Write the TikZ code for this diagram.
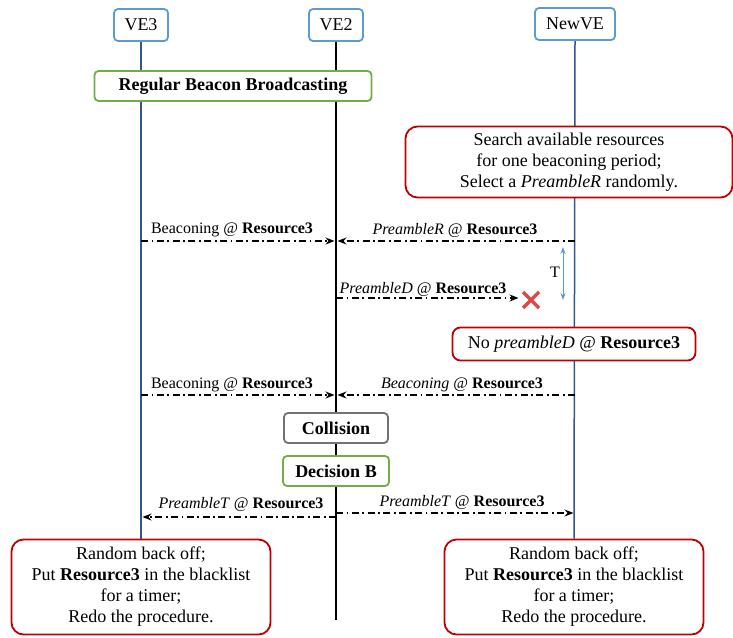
\documentclass[tikz,border=0pt]{standalone}
\usepackage{fontspec}
\setmainfont{Liberation Serif}
\usetikzlibrary{arrows.meta,backgrounds,calc}
\definecolor{entblue}{HTML}{5B9BD5}
\definecolor{lifeblue}{HTML}{2F5597}
\definecolor{phasegreen}{HTML}{70AD47}
\definecolor{notered}{HTML}{C00000}
\definecolor{stategray}{HTML}{767171}
\definecolor{crossred}{HTML}{E04848}
\tikzset{
  boxtext/.style={font=\fontsize{18}{21}\selectfont},
  entity/.style={boxtext, draw=entblue, line width=1.8pt, rounded corners=4pt, fill=white, minimum height=32pt, inner sep=0pt},
  phase/.style={boxtext, font=\fontsize{18}{21}\selectfont\bfseries, line width=1.8pt, rounded corners=4pt, fill=white, minimum height=30pt, inner sep=0pt},
  note/.style={boxtext, draw=notered, line width=1.8pt, rounded corners=12pt, fill=white, align=center, inner sep=0pt},
  msg/.style={line width=1.3pt, dash pattern=on 7pt off 3.5pt on 1.8pt off 3.5pt, -{Stealth[length=9pt,width=7pt,inset=3pt]}, shorten >=1.5pt},
  lbl/.style={font=\fontsize{16}{18}\selectfont, inner sep=0pt},
  life/.style={line width=1.5pt, lifeblue}
}
\def\resthree{\textbf{Resource3}}

\begin{document}
\begin{tikzpicture}[x=1pt,y=-1pt]
    %%%%% START %%%%%
    \useasboundingbox (0,0) rectangle (733,637);

    % entities
    \node[entity, minimum width=54pt] (ve3) at (141,25) {VE3};
    \node[entity, minimum width=54pt] (ve2) at (336,25) {VE2};
    \node[entity, minimum width=80pt] (newve) at (575,24) {NewVE};

    % phases and notes
    \node[phase, draw=phasegreen, minimum width=277pt] (regular) at (233,86) {Regular Beacon Broadcasting};
    \node[note, minimum width=327pt, minimum height=71pt] (search) at (569,162)
        {Search available resources\\for one beaconing period;\\Select a \textit{PreambleR} randomly.};
    \node[note, minimum width=243pt, minimum height=33pt, rounded corners=8pt] (nopre) at (574,344)
        {No \textit{preambleD} @ \resthree};
    \node[phase, draw=stategray, minimum width=104pt] (collision) at (336,428) {Collision};
    \node[phase, draw=phasegreen, minimum width=106pt] (decision) at (336,471) {Decision B};
    \node[note, minimum width=259pt, minimum height=95pt] (backoff3) at (141,587)
        {Random back off;\\Put \resthree{} in the blacklist\\for a timer;\\Redo the procedure.};
    \node[note, minimum width=259pt, minimum height=95pt] (backoffnew) at (574,587)
        {Random back off;\\Put \resthree{} in the blacklist\\for a timer;\\Redo the procedure.};

    % lifelines
    \coordinate (ve2end) at (336,620);
    \begin{scope}[on background layer]
        \draw[life] (ve3.south) -- (backoff3.north);
        \draw[line width=1.5pt, black] (ve2.south) -- (ve2end);
        \draw[life] (newve.south) -- (backoffnew.north);
    \end{scope}

    % message points
    \coordinate (ve3a) at (141,241);
    \coordinate (ve2a) at (336,241);
    \coordinate (newa) at (575,241);
    \coordinate (ve2b) at (336,298);
    \coordinate (lost) at (520,298);
    \coordinate (ve3c) at (141,395);
    \coordinate (ve2c) at (336,395);
    \coordinate (newc) at (575,395);
    \coordinate (ve3d) at (141,517);
    \coordinate (ve2d) at (336,517);
    \coordinate (ve2e) at (336,513);
    \coordinate (newe) at (575,513);

    \draw[msg] (ve3a) -- (ve2a);
    \draw[msg] (newa) -- (ve2a);
    \draw[msg] (ve2b) -- (lost);
    \draw[msg] (ve3c) -- (ve2c);
    \draw[msg] (newc) -- (ve2c);
    \draw[msg] (ve2d) -- (ve3d);
    \draw[msg] (ve2e) -- (newe);

    \node[lbl] (l1) at (232,230) {Beaconing @ \resthree};
    \node[lbl] (l2) at (455,230) {\textit{PreambleR} @ \resthree};
    \node[lbl] (l3) at (423,289) {\textit{PreambleD} @ \resthree};
    \node[lbl] (l4) at (232,385) {Beaconing @ \resthree};
    \node[lbl] (l5) at (462,385) {\textit{Beaconing} @ \resthree};
    \node[lbl] (l6) at (241,504) {\textit{PreambleT} @ \resthree};
    \node[lbl] (l7) at (462,502) {\textit{PreambleT} @ \resthree};

    % lost message
    \coordinate (cross) at (531,300);
    \draw[crossred, line width=3.5pt] ($(cross)+(-8,-8)$) -- ($(cross)+(8,8)$);
    \draw[crossred, line width=3.5pt] ($(cross)+(-8,8)$) -- ($(cross)+(8,-8)$);

    % period T
    \coordinate (ttop) at (563,247);
    \coordinate (tbot) at (563,300);
    \draw[entblue, line width=1pt, {Stealth[length=7pt,width=5pt,inset=2.5pt]}-{Stealth[length=7pt,width=5pt,inset=2.5pt]}] (ttop) -- (tbot);
    \node[lbl, anchor=east] (tlabel) at (560,272) {T};
    %%%%% END %%%%%
\end{tikzpicture}
\end{document}
